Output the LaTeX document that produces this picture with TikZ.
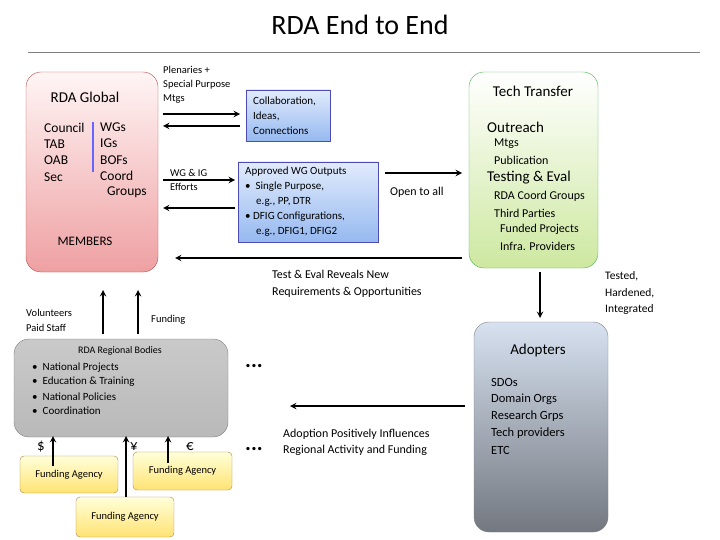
\documentclass[tikz,border=0pt]{standalone}
\usepackage{fontspec}
\setmainfont{Carlito}
\usetikzlibrary{positioning,calc}
\definecolor{pinkbot}{RGB}{238,160,162}
\definecolor{greenbot}{RGB}{205,232,160}
\definecolor{adtop}{RGB}{215,225,240}
\definecolor{adbot}{RGB}{115,120,128}
\definecolor{bluetop}{RGB}{225,235,252}
\definecolor{bluebot}{RGB}{150,185,240}

\tikzset{
	arr/.style={->,line width=1.8pt},
	box/.style={draw=#1,rounded corners=15pt,inner sep=0pt},
	sq/.style={draw=blue!40!gray,inner sep=0pt},
	txt/.style={anchor=west,inner sep=0pt,font=\fontsize{12}{14}\selectfont},
	big/.style={anchor=west,inner sep=0pt,font=\fontsize{15}{17}\selectfont},
}

\begin{document}
\begin{tikzpicture}[>=stealth,x=1pt,y=-1pt]
	\useasboundingbox (0,0) rectangle (720,540);
	
	\node at (360,25) {\fontsize{28}{30}\selectfont RDA End to End};
	\draw[gray] (28,52)--(700,52);
	
%	main boxes
	\shade[top color=red!4,bottom color=pinkbot,box=red!40!gray] (26,72) rectangle (158,272);
	\shade[top color=white,bottom color=greenbot,box=green!40!gray] (469,72) rectangle (598,268);
	\shade[top color=adtop,bottom color=adbot,box=gray] (474,322) rectangle (608,532);
	\shade[top color=gray!42,bottom color=gray!55,box=gray] (14,339) rectangle (228,437);
	\shade[top color=bluetop,bottom color=bluebot,sq] (246,90) rectangle (330,141);
	\shade[top color=bluetop,bottom color=bluebot,sq] (238,162) rectangle (378,242);
	
	\foreach \a/\b/\c/\d/\n in {20/456/118/493/fa1, 133/452/232/490/fa2, 76/497/174/537/fa3}{
		\shade[top color=yellow!15!white,bottom color=orange!40!yellow!55,draw=orange!40!gray,rounded corners=4pt]
			(\a,\b) rectangle (\c,\d);
		\node[font=\fontsize{10.5}{12}\selectfont] (\n) at ({(\a+\c)/2},{(\b+\d)/2}) {Funding Agency};
	}
	
%	RDA Global
	\node[font=\fontsize{15}{17}\selectfont] at (85,97) {RDA Global};
	\foreach \t [count=\i] in {Council,TAB,OAB,Sec}
		\node[big,font=\fontsize{13.5}{15}\selectfont] at (44,{111+16.5*\i}) {\t};
	\draw[blue!60,line width=2pt] (93,122)--(93,172);
	\foreach \t [count=\i] in {WGs,IGs,BOFs,Coord}
		\node[big,font=\fontsize{13.5}{15}\selectfont] at (100,{111+16.3*\i}) {\t};
	\node[big,font=\fontsize{13.5}{15}\selectfont] at (107,192) {Groups};
	\node[font=\fontsize{13}{14}\selectfont] at (85,241) {MEMBERS};
	
%	middle boxes
	\node[txt,align=left,font=\fontsize{11}{15}\selectfont] (collab) at (253,116)
		{Collaboration,\\Ideas,\\Connections};
	\node[txt,align=left,font=\fontsize{11}{15}\selectfont] (out) at (245,202)
		{Approved WG Outputs\\
		\textbullet\ \ Single Purpose,\\
		\quad e.g., PP, DTR\\
		\textbullet\ DFIG Configurations,\\
		\quad e.g., DFIG1, DFIG2};
	\node[txt,align=left,font=\fontsize{10.5}{14}\selectfont] at (163,85)
		{Plenaries +\\Special Purpose\\Mtgs};
	\node[txt,align=left,font=\fontsize{10.5}{14}\selectfont] at (170,180) {WG \& IG\\Efforts};
	\draw[arr] (163,114)--(240,114);
	\draw[arr] (240,126)--(163,126);
	\draw[arr] (163,180)--(235,180);
	\draw[arr] (235,208)--(163,208);
	\draw[arr] (385,173)--(462,173);
	\node[txt] at (390,192) {Open to all};
	
%	Tech Transfer
	\node[font=\fontsize{15}{17}\selectfont] (tech) at (533,91) {Tech Transfer};
	\node[big] at (487,127) {Outreach};
	\node[txt] at (494,144) {Mtgs};
	\node[txt] at (494,160) {Publication};
	\node[big] at (487,178) {Testing \& Eval};
	\node[txt] at (494,196) {RDA Coord Groups};
	\node[txt] at (494,213) {Third Parties};
	\node[txt] at (500,229) {Funded Projects};
	\node[txt] at (500,246) {Infra. Providers};
	\draw[arr] (462,258)--(175,258);
	\node[txt,align=left,font=\fontsize{12}{17}\selectfont] at (272,284) {Test \& Eval Reveals New\\Requirements \& Opportunities};
	\draw[arr] (540,272)--(540,318);
	\node[txt,align=left,font=\fontsize{11.5}{16.5}\selectfont] at (605,293) {Tested,\\Hardened,\\Integrated};
	
%	Adopters
	\node[font=\fontsize{15}{17}\selectfont] (adopt) at (538,350) {Adopters};
	\foreach \t [count=\i] in {SDOs,Domain Orgs,Research Grps,Tech providers,ETC}
		\node[txt,font=\fontsize{12.5}{14}\selectfont] at (491,{365+17*\i}) {\t};
	\draw[arr] (465,406)--(290,406);
	\node[txt,align=left,font=\fontsize{12}{16}\selectfont] at (283,442)
		{Adoption Positively Influences\\Regional Activity and Funding};
	
%	regional
	\node[font=\fontsize{10}{11}\selectfont] (reg) at (120,351) {RDA Regional Bodies};
	\foreach \t [count=\i] in {National Projects,Education \& Training,National Policies,Coordination}
		\node[txt,font=\fontsize{11}{12}\selectfont] at (32,{353.5+14.3*\i}) {\textbullet\ \ \t};
	\draw[arr] (103,334)--(103,290);
	\draw[arr] (138,334)--(138,290);
	\node[txt,align=left,font=\fontsize{10.5}{15}\selectfont] at (26,320) {Volunteers\\Paid Staff};
	\node[txt,font=\fontsize{10.5}{12}\selectfont] at (151,320) {Funding};
	\node[font=\fontsize{22}{20}\bfseries] at (254,366) {...};
	\node[font=\fontsize{22}{20}\bfseries] at (254,449) {...};
	
	\draw[arr] (fa1.north -| 53,456)--(53,436);
	\draw[arr] (126,497)--(126,436);
	\draw[arr] (fa2.north -| 168,452)--(168,436);
	\node[font=\fontsize{15}{16}\selectfont] at (41,447) {\$};
	\node[font=\fontsize{15}{16}\selectfont] at (134,447) {¥};
	\node[font=\fontsize{15}{16}\selectfont] at (190,447) {€};
\end{tikzpicture}
\end{document}
